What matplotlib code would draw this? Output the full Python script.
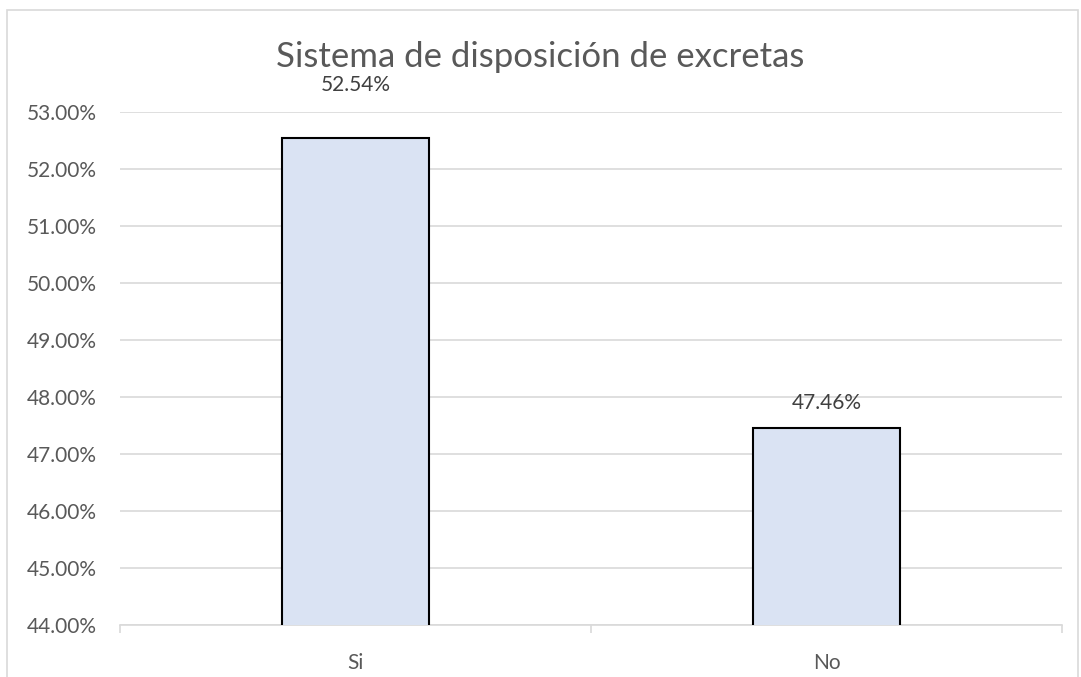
import matplotlib.pyplot as plt
from matplotlib.patches import Rectangle
from matplotlib.ticker import FuncFormatter

categories = ["Si", "No"]
values = [52.54, 47.46]
label_offsets = [31, 11]  # points above bar top, as in the original

plt.rcParams["font.family"] = ["Lato", "DejaVu Sans"]
text_color = "#595959"
grid_color = "#D9D9D9"

fig = plt.figure(figsize=(10.81, 6.77), dpi=100)
ax = fig.add_axes([120 / 1081, 52 / 677, 942 / 1081, 513 / 677])

x = range(len(categories))
ax.bar(x, values, width=0.314, color="#DAE3F3", edgecolor="black",
       linewidth=1.5, zorder=3)

for i, v in enumerate(values):
    ax.annotate(f"{v:.2f}%", (i, v), xytext=(0, label_offsets[i]),
                textcoords="offset points", ha="center", va="bottom",
                fontsize=15, color="#404040", annotation_clip=False)

ax.set_ylim(44, 53)
ax.set_xlim(-0.5, len(categories) - 0.5)
ax.set_yticks(range(44, 54))
ax.yaxis.set_major_formatter(FuncFormatter(lambda v, p: f"{v:.2f}%"))
ax.grid(axis="y", color=grid_color, linewidth=1.2, zorder=0)

ax.set_xticks(list(x))
ax.set_xticklabels(categories)
ax.set_xticks([-0.5, 0.5, 1.5], minor=True)
ax.tick_params(axis="x", which="major", length=0, pad=20, labelsize=15,
               labelcolor=text_color)
ax.tick_params(axis="x", which="minor", length=6, width=1.2, color=grid_color)
ax.tick_params(axis="y", length=0, pad=17, labelsize=15, labelcolor=text_color)

for s in ["top", "right", "left"]:
    ax.spines[s].set_visible(False)
ax.spines["bottom"].set_color(grid_color)
ax.spines["bottom"].set_linewidth(1.2)

fig.text(0.5, 1 - 67 / 677, "Sistema de disposición de excretas",
         ha="center", va="baseline", fontsize=25, color=text_color)

fig.patches.append(Rectangle((7 / 1081, -0.01), 1071 / 1081, 1 - 10 / 677 + 0.01,
                             transform=fig.transFigure, fill=False,
                             edgecolor=grid_color, linewidth=1.2))

fig.savefig("out.png", dpi=100)
